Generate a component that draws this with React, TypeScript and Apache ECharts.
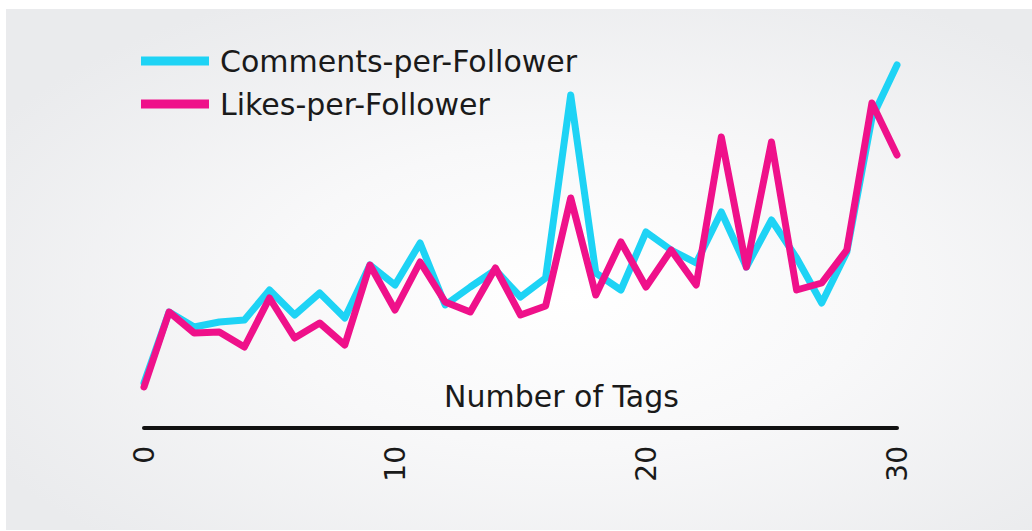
import React, { useEffect, useRef } from "react";
import * as echarts from "echarts";

const tags = [0, 1, 2, 3, 4, 5, 6, 7, 8, 9, 10, 11, 12, 13, 14, 15, 16, 17, 18, 19, 20, 21, 22, 23, 24, 25, 26, 27, 28, 29, 30];
const commentsPerFollower = [4.5, 11.6, 10.1, 10.6, 10.8, 13.8, 11.3, 13.5, 11.0, 16.3, 14.3, 18.5, 12.3, 14.1, 15.8, 13.1, 15.0, 33.3, 15.5, 13.8, 19.6, 17.8, 16.5, 21.6, 16.1, 20.8, 17.0, 12.5, 17.6, 31.0, 36.3];
const likesPerFollower = [4.1, 11.6, 9.5, 9.6, 8.1, 13.0, 9.0, 10.5, 8.3, 16.3, 11.8, 16.6, 12.6, 11.6, 16.0, 11.3, 12.2, 23.0, 13.3, 18.6, 14.1, 17.8, 14.3, 29.1, 16.1, 28.6, 13.8, 14.5, 17.8, 32.5, 27.3];
const xTicks = [0, 10, 20, 30];
const seriesNames = ["Comments-per-Follower", "Likes-per-Follower"];
const axisTitle = "Number of Tags";

const FONT = "'DejaVu Sans', Lato, sans-serif";

export default function App() {
  const ref = useRef<HTMLDivElement>(null);
  useEffect(() => {
    if (!ref.current) return;
    const chart = echarts.init(ref.current, null, { renderer: "svg" });
    const toPairs = (vals: number[]) => vals.map((v, i) => [tags[i], v]);
    chart.setOption({
      animation: false,
      backgroundColor: "#ffffff",
      graphic: [
        {
          type: "rect",
          z: -10,
          silent: true,
          shape: { x: 6, y: 9, width: 1026, height: 521 },
          style: {
            fill: new echarts.graphic.RadialGradient(0.55, 0.55, 0.65, [
              { offset: 0, color: "#ffffff" },
              { offset: 0.45, color: "#f8f8f9" },
              { offset: 1, color: "#eaebed" },
            ]),
          },
        },
        {
          type: "text",
          left: 444,
          top: 381,
          style: { text: axisTitle, font: `30px ${FONT}`, fill: "#1a1a1a" },
        },
      ],
      legend: {
        orient: "vertical",
        left: 141,
        top: 44,
        padding: 0,
        icon: "rect",
        itemWidth: 68,
        itemHeight: 9,
        itemGap: 9,
        textStyle: { fontSize: 30, fontFamily: FONT, color: "#1a1a1a", lineHeight: 34, padding: [0, 0, 0, 6] },
        data: seriesNames,
      },
      grid: { left: 144, right: 135, top: 28, bottom: 103 },
      xAxis: {
        type: "value",
        min: 0,
        max: 30,
        interval: 10,
        axisLine: { show: true, lineStyle: { color: "#111111", width: 4 } },
        axisTick: { show: false },
        splitLine: { show: false },
        axisLabel: {
          rotate: 90,
          margin: 18,
          fontSize: 28,
          fontFamily: FONT,
          color: "#1a1a1a",
          customValues: xTicks,
        },
      },
      yAxis: { type: "value", min: 0, max: 40, show: false },
      series: [
        {
          name: seriesNames[0],
          type: "line",
          data: toPairs(commentsPerFollower),
          symbol: "none",
          lineStyle: { width: 7, color: "#1ed3f5", join: "round", cap: "round" },
          itemStyle: { color: "#1ed3f5" },
          z: 2,
        },
        {
          name: seriesNames[1],
          type: "line",
          data: toPairs(likesPerFollower),
          symbol: "none",
          lineStyle: { width: 7, color: "#ef118a", join: "round", cap: "round" },
          itemStyle: { color: "#ef118a" },
          z: 3,
        },
      ],
    });
    return () => chart.dispose();
  }, []);
  return (
    <div
      ref={ref}
      style={{ position: "fixed", left: 0, top: 0, width: 1032, height: 531 }}
    />
  );
}
